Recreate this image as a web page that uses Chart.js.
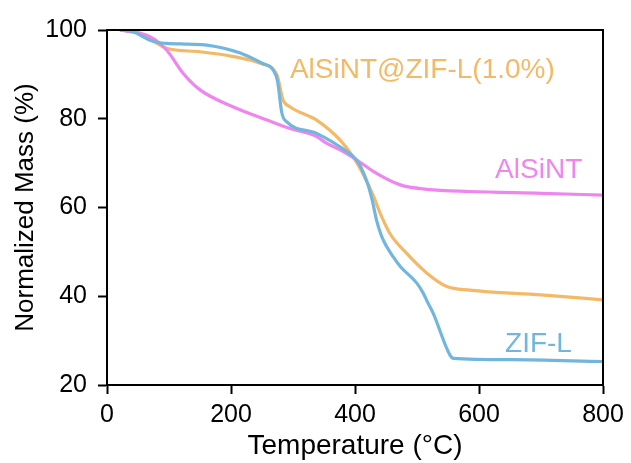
<!DOCTYPE html>
<html lang="en">
<head>
  <meta charset="utf-8" />
  <title>TGA curves</title>
  <style>
    body { margin: 0; background: #fff; }
    canvas { display: block; }
  </style>
  <script src="https://cdn.jsdelivr.net/npm/chart.js"></script>
</head>
<body>
  <canvas id="tga" width="631" height="463"></canvas>
  <script>
    // temperature (°C) / normalized mass (%)
    const zifT = [21, 42, 69, 85, 96, 130, 161, 215, 250, 268, 275, 282, 290, 338, 387, 400, 408, 420, 428, 435, 443, 451, 462, 473, 500, 510, 518, 526, 553, 559, 650, 800];
    const zifM = [100, 99.6, 97.7, 97.1, 97.0, 96.8, 96.6, 94.8, 92.5, 91.0, 88.5, 81.3, 79.3, 76.7, 72.6, 71.1, 69.5, 65.5, 61.5, 57.0, 53.5, 51.2, 48.8, 46.7, 42.9, 40.7, 38.4, 36.2, 26.8, 26.0, 25.7, 25.3];

    const ntT = [21, 69, 96, 123, 150, 203, 258, 295, 338, 354, 376, 403, 430, 473, 516, 585, 700, 800];
    const ntM = [100, 98.5, 95.5, 90.2, 86.5, 82.7, 79.7, 77.8, 76.0, 74.5, 73.0, 70.7, 68.1, 65.1, 64.1, 63.6, 63.2, 62.8];

    const mixT = [21, 53, 96, 150, 204, 247, 274, 284, 295, 338, 376, 397, 415, 430, 440, 456, 483, 516, 548, 585, 700, 800];
    const mixM = [100, 99.3, 95.9, 95.1, 94.0, 92.5, 89.9, 84.2, 82.7, 79.7, 75.2, 71.4, 67.0, 62.5, 58.9, 54.2, 49.7, 45.2, 42.2, 41.4, 40.3, 39.2];

    const seriesNames = ['ZIF-L', 'AlSiNT', 'AlSiNT@ZIF-L(1.0%)'];
    const seriesColors = ['#72b6de', '#ee86ee', '#f3b966'];

    // in-plot labels (data coordinates of left end / baseline)
    const labelX = [642, 626, 295];
    const labelY = [27.5, 66.6, 89.1];

    const xTicks = [0, 200, 400, 600, 800];
    const yTicks = [20, 40, 60, 80, 100];

    function pts(xs, ys) {
      return xs.map((x, i) => ({ x: x, y: ys[i] }));
    }

    const frameAndLabels = {
      id: 'frameAndLabels',
      afterDatasetsDraw(chart) {
        const ctx = chart.ctx;
        const a = chart.chartArea;
        ctx.save();
        ctx.strokeStyle = '#000';
        ctx.lineWidth = 2;
        ctx.strokeRect(a.left, a.top, a.right - a.left, a.bottom - a.top);
        ctx.font = '28px "Liberation Sans", Arial, sans-serif';
        ctx.textBaseline = 'alphabetic';
        ctx.textAlign = 'left';
        for (let i = 0; i < seriesNames.length; i++) {
          ctx.fillStyle = seriesColors[i];
          ctx.fillText(seriesNames[i], chart.scales.x.getPixelForValue(labelX[i]), chart.scales.y.getPixelForValue(labelY[i]));
        }
        ctx.restore();
      }
    };

    const datasets = [
      { label: seriesNames[0], data: pts(zifT, zifM), borderColor: seriesColors[0] },
      { label: seriesNames[1], data: pts(ntT, ntM), borderColor: seriesColors[1] },
      { label: seriesNames[2], data: pts(mixT, mixM), borderColor: seriesColors[2] }
    ].map(d => Object.assign(d, {
      showLine: true, pointRadius: 0, borderWidth: 3.2, cubicInterpolationMode: 'monotone', fill: false
    }));

    new Chart(document.getElementById('tga'), {
      type: 'scatter',
      data: { datasets: datasets },
      plugins: [frameAndLabels],
      options: {
        animation: false,
        responsive: false,
        layout: { padding: { left: 10, right: 28, top: 30, bottom: 0 } },
        plugins: { legend: { display: false }, tooltip: { enabled: false } },
        scales: {
          x: {
            min: 0, max: 800,
            afterBuildTicks: s => { s.ticks = xTicks.map(v => ({ value: v })); },
            afterFit: s => { s.height = 78; },
            grid: { drawOnChartArea: false, color: '#000', tickLength: 9, tickWidth: 2 },
            border: { color: '#000', width: 2 },
            ticks: { color: '#000', padding: 6, maxRotation: 0, font: { size: 25, family: '"Liberation Sans", Arial, sans-serif' } },
            title: { display: true, text: 'Temperature (°C)', color: '#000', padding: { top: 0, bottom: 0 }, font: { size: 28, family: '"Liberation Sans", Arial, sans-serif' } }
          },
          y: {
            min: 20, max: 100,
            afterBuildTicks: s => { s.ticks = yTicks.map(v => ({ value: v })); },
            afterFit: s => { s.width = 97; },
            grid: { drawOnChartArea: false, color: '#000', tickLength: 9, tickWidth: 2 },
            border: { color: '#000', width: 2 },
            ticks: { color: '#000', padding: 11, font: { size: 25, family: '"Liberation Sans", Arial, sans-serif' } },
            title: { display: true, text: 'Normalized Mass (%)', color: '#000', padding: { top: 0, bottom: 0 }, font: { size: 26, family: '"Liberation Sans", Arial, sans-serif' } }
          }
        }
      }
    });
  </script>
</body>
</html>
